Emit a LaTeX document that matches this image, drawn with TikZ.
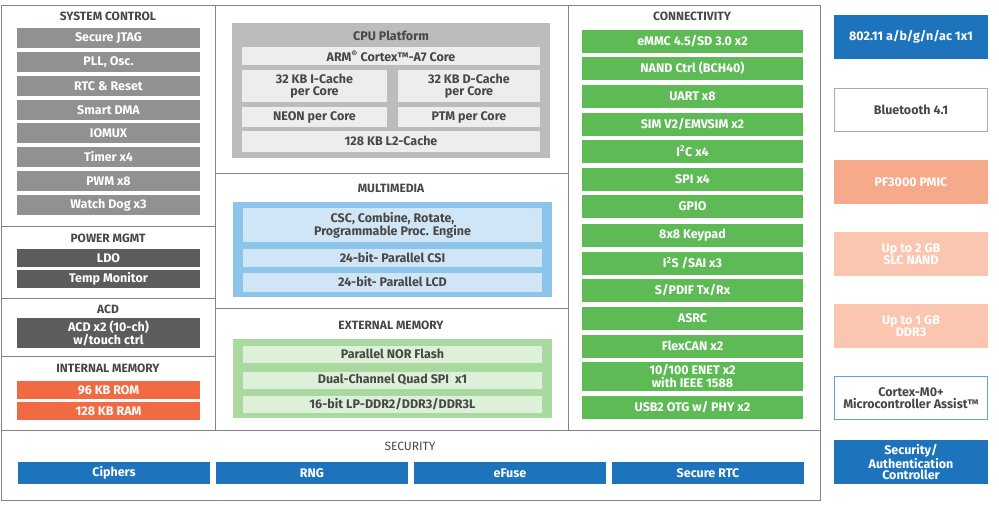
\documentclass[tikz,border=0pt]{standalone}
\usepackage{fontspec}
\setmainfont{Fira Sans}

\definecolor{framegray}{HTML}{858585}
\definecolor{titlegray}{HTML}{474747}
\definecolor{sysgray}{HTML}{929092}
\definecolor{pwrgray}{HTML}{5D5B5E}
\definecolor{memred}{HTML}{F26A43}
\definecolor{cpugray}{HTML}{BDBBBC}
\definecolor{cpulight}{HTML}{EEEDED}
\definecolor{mmblue}{HTML}{8CC4EA}
\definecolor{mmlight}{HTML}{D0E6F6}
\definecolor{emgreen}{HTML}{A9D9A0}
\definecolor{emlight}{HTML}{DDF0D8}
\definecolor{congreen}{HTML}{5DBA55}
\definecolor{secblue}{HTML}{1E74BC}
\definecolor{pmicred}{HTML}{F7A98B}
\definecolor{ddrpink}{HTML}{FBC6AF}
\definecolor{m0blue}{HTML}{5FA3DA}
\definecolor{btgray}{HTML}{ABABAB}

\begin{document}
\begin{tikzpicture}[x=1pt,y=-1pt,
    ttl/.style={font=\fontsize{12}{12}\selectfont\bfseries, text=titlegray},
    lbl/.style={inner sep=0pt, align=center, font=\fontsize{12.5}{11.5}\selectfont\bfseries},
    sysbox/.style={lbl, fill=sysgray, text=white, minimum width=183pt, minimum height=20pt},
    pwrbox/.style={lbl, fill=pwrgray, text=white, minimum width=183pt, minimum height=18pt},
    membox/.style={lbl, fill=memred, text=white, minimum width=183pt, minimum height=18pt},
    cpubox/.style={lbl, fill=cpulight, text=titlegray},
    mmbox/.style={lbl, fill=mmlight, text=titlegray, minimum width=299pt},
    embox/.style={lbl, fill=emlight, text=titlegray, minimum width=299pt, minimum height=17pt},
    conbox/.style={lbl, fill=congreen, text=white, minimum width=221pt, minimum height=23pt},
    secbox/.style={lbl, fill=secblue, text=white, minimum width=192pt, minimum height=22pt},
    extbox/.style={lbl, minimum width=154pt, minimum height=44pt}]
    \useasboundingbox (0,0) rectangle (999,509);

    % outer frame and section lines
    \draw[framegray, line width=1pt] (1,5) rectangle (820,500);
    \draw[framegray, line width=0.8pt] (215,5) -- (215,430);
    \draw[framegray, line width=0.8pt] (568,5) -- (568,430);
    \draw[framegray, line width=0.8pt] (1,430) -- (820,430);
    \draw[framegray, line width=0.8pt] (1,226) -- (215,226);
    \draw[framegray, line width=0.8pt] (1,298) -- (215,298);
    \draw[framegray, line width=0.8pt] (1,356) -- (215,356);
    \draw[framegray, line width=0.8pt] (215,173) -- (568,173);
    \draw[framegray, line width=0.8pt] (215,308) -- (568,308);

    % system control
    \node[ttl] (sysctl) at (108,16) {SYSTEM CONTROL};
    \node[sysbox] (jtag) at (108.5,38) {Secure JTAG};
    \node[sysbox] (pll) at (108.5,62) {PLL, Osc.};
    \node[sysbox] (rtc) at (108.5,86) {RTC \& Reset};
    \node[sysbox] (dma) at (108.5,110) {Smart DMA};
    \node[sysbox] (iomux) at (108.5,133) {IOMUX};
    \node[sysbox] (timer) at (108.5,157) {Timer x4};
    \node[sysbox] (pwm) at (108.5,181) {PWM x8};
    \node[sysbox] (wdog) at (108.5,205) {Watch Dog x3};

    % power, acd, internal memory
    \node[ttl] (pwrmgmt) at (108,238) {POWER MGMT};
    \node[pwrbox] (ldo) at (108.5,258) {LDO};
    \node[pwrbox] (temp) at (108.5,279) {Temp Monitor};
    \node[ttl] (acdttl) at (108,309) {ACD};
    \node[pwrbox, minimum height=30pt] (acd) at (108.5,333) {ACD x2 (10-ch)\\w/touch ctrl};
    \node[ttl] (intmem) at (108,368) {INTERNAL MEMORY};
    \node[membox] (rom) at (108.5,390) {96 KB ROM};
    \node[membox] (ram) at (108.5,411) {128 KB RAM};

    % cpu platform
    \node[fill=cpugray, minimum width=318pt, minimum height=135pt, inner sep=0pt] (cpu) at (391,90.5) {};
    \node[lbl, text=titlegray] (cputtl) at (391,36) {CPU Platform};
    \node[cpubox, minimum width=298pt, minimum height=18pt] (arm) at (391,56) {ARM\textsuperscript{®} Cortex™-A7 Core};
    \node[cpubox, minimum width=145pt, minimum height=32pt] (icache) at (314.5,86) {32 KB I-Cache\\per Core};
    \node[cpubox, minimum width=142pt, minimum height=32pt] (dcache) at (469,86) {32 KB D-Cache\\per Core};
    \node[cpubox, minimum width=145pt, minimum height=20pt] (neon) at (314.5,117) {NEON per Core};
    \node[cpubox, minimum width=142pt, minimum height=20pt] (ptm) at (469,117) {PTM per Core};
    \node[cpubox, minimum width=298pt, minimum height=21pt] (l2) at (391,141) {128 KB L2-Cache};

    % multimedia
    \node[ttl] (mmttl) at (391,188) {MULTIMEDIA};
    \node[fill=mmblue, minimum width=319pt, minimum height=95pt, inner sep=0pt] (mm) at (392.5,249.5) {};
    \node[mmbox, minimum height=34pt] (csc) at (392.5,225) {CSC, Combine, Rotate,\\Programmable Proc. Engine};
    \node[mmbox, minimum height=18pt] (csi) at (392.5,258) {24-bit- Parallel CSI};
    \node[mmbox, minimum height=19pt] (lcd) at (392.5,282) {24-bit- Parallel LCD};

    % external memory
    \node[ttl] (emttl) at (391,325) {EXTERNAL MEMORY};
    \node[fill=emgreen, minimum width=319pt, minimum height=79pt, inner sep=0pt] (em) at (392.5,378.5) {};
    \node[embox] (nor) at (392.5,354) {Parallel NOR Flash};
    \node[embox] (qspi) at (392.5,380) {Dual-Channel Quad SPI\ \ x1};
    \node[embox] (ddr) at (392.5,404) {16-bit LP-DDR2/DDR3/DDR3L};

    % connectivity
    \node[ttl] (conttl) at (692,16) {CONNECTIVITY};
    \node[conbox] (emmc) at (692.5,41) {eMMC 4.5/SD 3.0 x2};
    \node[conbox] (nand) at (692.5,68) {NAND Ctrl (BCH40)};
    \node[conbox] (uart) at (692.5,96) {UART x8};
    \node[conbox] (sim) at (692.5,124) {SIM V2/EMVSIM x2};
    \node[conbox] (i2c) at (692.5,151) {I\textsuperscript{2}C x4};
    \node[conbox] (spi) at (692.5,179) {SPI x4};
    \node[conbox] (gpio) at (692.5,206) {GPIO};
    \node[conbox] (keypad) at (692.5,235) {8x8 Keypad};
    \node[conbox] (i2s) at (692.5,263) {I\textsuperscript{2}S /SAI x3};
    \node[conbox] (spdif) at (692.5,290) {S/PDIF Tx/Rx};
    \node[conbox] (asrc) at (692.5,318) {ASRC};
    \node[conbox] (flexcan) at (692.5,346) {FlexCAN x2};
    \node[conbox, minimum height=29pt, font=\fontsize{12.5}{10.5}\selectfont\bfseries] (enet) at (692.5,376) {10/100 ENET x2\\with IEEE 1588};
    \node[conbox] (usb) at (692.5,407) {USB2 OTG w/ PHY x2};

    % security
    \node[ttl, font=\fontsize{12}{12}\selectfont] (secttl) at (410,446) {SECURITY};
    \node[secbox] (ciphers) at (114,473) {Ciphers};
    \node[secbox] (rng) at (312,473) {RNG};
    \node[secbox] (efuse) at (510,473) {eFuse};
    \node[secbox] (srtc) at (708,473) {Secure RTC};

    % external parts
    \node[extbox, fill=secblue, text=white] (wifi) at (911,37) {802.11 a/b/g/n/ac 1x1};
    \node[extbox, draw=btgray, line width=1pt, text=titlegray, minimum width=153pt, minimum height=43pt] (bt) at (911,110) {Bluetooth 4.1};
    \node[extbox, fill=pmicred, text=white] (pmic) at (911,182) {PF3000 PMIC};
    \node[extbox, fill=ddrpink, text=white] (slc) at (911,254) {Up to 2 GB\\SLC NAND};
    \node[extbox, fill=ddrpink, text=white] (ddr3) at (911,326) {Up to 1 GB\\DDR3};
    \node[extbox, draw=m0blue, line width=1pt, text=titlegray, minimum width=153pt, minimum height=43pt] (m0) at (911,398) {Cortex-M0+\\Microcontroller Assist™};
    \node[extbox, fill=secblue, text=white] (secctl) at (911,462) {Security/\\Authentication\\Controller};
\end{tikzpicture}
\end{document}
